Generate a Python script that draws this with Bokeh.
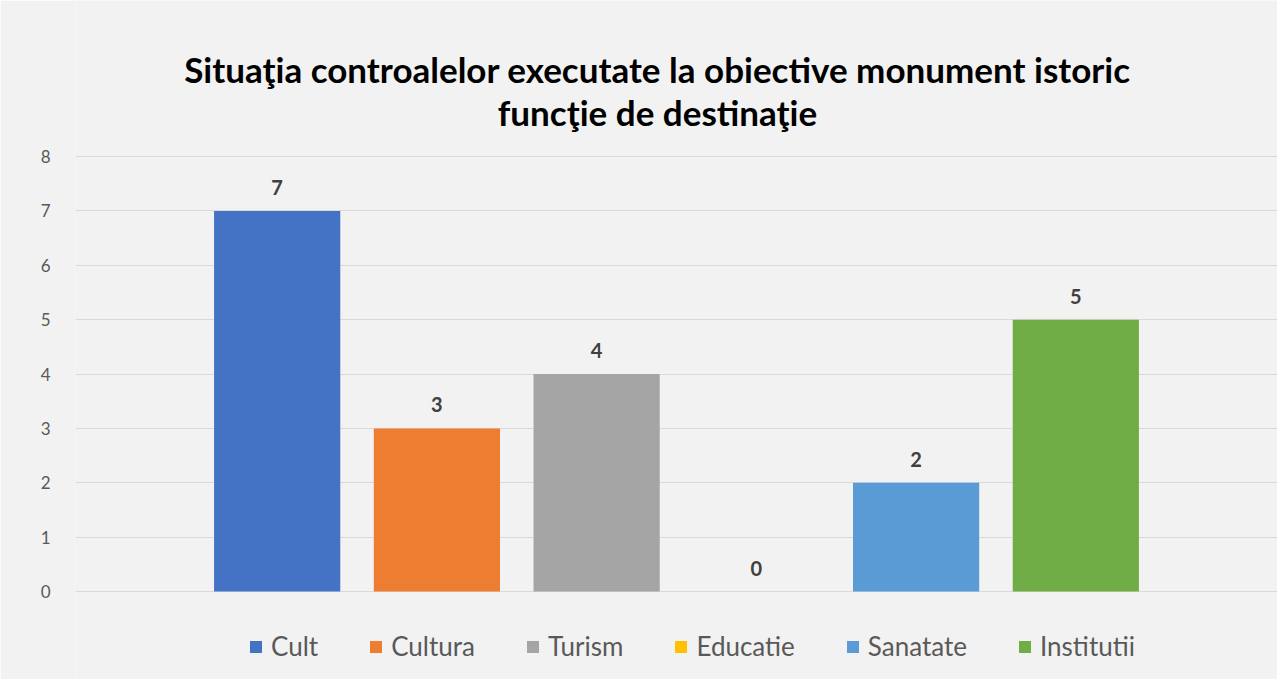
from bokeh.plotting import figure
from bokeh.models import ColumnDataSource, Range1d, FixedTicker, Label, Legend, LegendItem
from bokeh.core.properties import value
from bokeh.embed import file_html
from bokeh.resources import INLINE

# ---- data ----
categories = ["Cult", "Cultura", "Turism", "Educatie", "Sanatate", "Institutii"]
counts = [7, 3, 4, 0, 2, 5]
colors = ["#4472C4", "#ED7D31", "#A5A5A5", "#FFC000", "#5B9BD5", "#70AD47"]
y_ticks = [0, 1, 2, 3, 4, 5, 6, 7, 8]
title_lines = ["Situaţia controalelor executate la obiective monument istoric",
               "funcţie de destinaţie"]

FONT = "Lato"
BG = "#F2F2F2"

W, H = 1277, 679
FRAME_LEFT = 75
FRAME_W = W - FRAME_LEFT
ZERO_Y, EIGHT_Y = 591, 156          # pixel rows of value 0 and 8
ppu = (ZERO_Y - EIGHT_Y) / 8.0      # pixels per unit

x_pos = list(range(len(categories)))
src = ColumnDataSource(dict(x=x_pos, cat=categories, val=counts, color=colors,
                            lbl=[str(v) for v in counts]))

x_lo, x_hi = -1.2625, len(categories) - 1 + 1.2625
y_lo, y_hi = -(H - ZERO_Y) / ppu, ZERO_Y / ppu
p = figure(width=W, height=H, output_backend="svg", toolbar_location=None,
           x_range=Range1d(x_lo, x_hi), y_range=Range1d(y_lo, y_hi),
           min_border_left=FRAME_LEFT, min_border_right=0, min_border_top=0, min_border_bottom=0)
p.background_fill_color = BG
p.border_fill_color = BG
p.outline_line_color = None

bars = p.vbar(x="x", top="val", bottom=0, width=0.79, fill_color="color", line_color=None,
              source=src)

p.text(x="x", y="val", text="lbl", source=src, text_align="center", text_baseline="bottom",
       y_offset=-16, text_font=value(FONT), text_font_style="bold", text_font_size="20px",
       text_color="#404040")

p.xaxis.visible = False
p.xgrid.visible = False
p.ygrid.grid_line_color = "#D9D9D9"
p.ygrid.grid_line_width = 1
p.yaxis.ticker = FixedTicker(ticks=y_ticks)
p.yaxis.axis_line_color = None
p.yaxis.major_tick_line_color = None
p.yaxis.minor_tick_line_color = None
p.yaxis.major_tick_out = 0
p.yaxis.major_tick_in = 0
p.yaxis.major_label_standoff = 25
p.yaxis.major_label_text_font = FONT
p.yaxis.major_label_text_font_size = "17px"
p.yaxis.major_label_text_color = "#595959"

# title (two lines, centred)
tx = x_lo + (657 - FRAME_LEFT) * (x_hi - x_lo) / FRAME_W
for line, py in zip(title_lines, [68, 111]):
    p.add_layout(Label(x=tx, y=(ZERO_Y - py) / ppu, text=line, text_align="center",
                       text_baseline="alphabetic",
                       text_font=FONT, text_font_style="bold", text_font_size="35px",
                       text_color="#000000"))

# legend
items = [LegendItem(label=c, renderers=[bars], index=i) for i, c in enumerate(categories)]
leg = Legend(items=items, orientation="horizontal", location=(248 - FRAME_LEFT, 17),
             padding=0, margin=0, spacing=50, label_standoff=8,
             glyph_width=15, glyph_height=15,
             label_text_font=FONT, label_text_font_size="26px", label_text_color="#595959",
             border_line_color=None, background_fill_alpha=0)
p.add_layout(leg, "center")

open("out.html", "w").write(file_html(p, INLINE))
